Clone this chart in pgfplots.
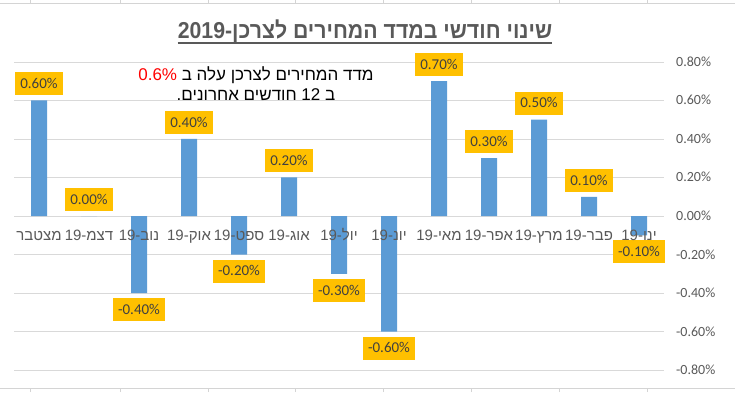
\documentclass[border=0pt]{standalone}
\usepackage{fontspec}
\usepackage{graphicx}
\usepackage{pgfplots}
\pgfplotsset{compat=1.18}
\setmainfont{Carlito}
\newfontfamily\heb[Script=Hebrew]{Liberation Sans}
\TeXXeTstate=1
\definecolor{barblue}{HTML}{5B9BD5}
\definecolor{lblorange}{HTML}{FFC000}
\definecolor{lbltext}{HTML}{404040}
\definecolor{axtext}{HTML}{595959}
\definecolor{gridgray}{HTML}{D9D9D9}
\definecolor{cellgray}{HTML}{D4D4D4}
\newcommand{\hm}[2]{{\heb\beginR #1\kern0pt-\beginL #2\endL\endR}}
\pgfplotsset{
  frame/.style={
    at={(14bp,22bp)}, anchor=south west,
    scale only axis, width=650bp, height=308bp,
    xmin=-0.5, xmax=12.5, ymin=-0.8, ymax=0.8,
    axis line style={draw=none}, major tick length=0pt, tick style={draw=none},
  }
}
\begin{document}
\begin{tikzpicture}[x=1bp,y=1bp]
\useasboundingbox (0,0) rectangle (735,392);
\draw[cellgray, line width=0.8bp] (0,389) -- (735,389);
\draw[cellgray, line width=0.8bp] (0,4) -- (735,4);
\foreach \x in {30,120,208,295,383,471,559,647} {
  \draw[cellgray, line width=0.8bp] (\x,389) -- (\x,392);
  \draw[cellgray, line width=0.8bp] (\x,0) -- (\x,4);
}
\begin{axis}[
  frame,
  ytick={-0.8,-0.6,-0.4,-0.2,0,0.2,0.4,0.6,0.8},
  ymajorgrids, grid style={gridgray, line width=0.75bp},
  yticklabel pos=right,
  /pgf/number format/assume math mode=true,
  yticklabel={\pgfmathprintnumber[fixed,fixed zerofill,precision=2]{\tick}\%},
  yticklabel style={anchor=base west, inner sep=0pt, xshift=12bp, yshift=-4.5bp, font=\fontsize{14bp}{16bp}\selectfont, text=axtext},
  xtick=\empty,
  ybar, bar width=16bp,
  nodes near coords={\pgfmathprintnumber[fixed,fixed zerofill,precision=2]{\pgfplotspointmeta}\%},
  nodes near coords align=vertical,
  every node near coord/.append style={fill=lblorange, text=lbltext, font=\fontsize{15bp}{18bp}\selectfont, inner xsep=5bp, inner ysep=6.75bp, text height=9.5bp, text depth=0bp, outer ysep=5bp, outer xsep=0pt},
]
\addplot[fill=barblue, draw=none] coordinates {
(0,0.60) (1,0.00) (2,-0.40) (3,0.40) (4,-0.20) (5,0.20) (6,-0.30)
(7,-0.60) (8,0.70) (9,0.30) (10,0.50) (11,0.10) (12,-0.10)};
\end{axis}
\begin{axis}[
  frame,
  ytick=\empty,
  xtick={0,1,2,3,4,5,6,7,8,9,10,11,12},
  xticklabels={מצטבר, \hm{דצמ}{19}, \hm{נוב}{19}, \hm{אוק}{19}, \hm{ספט}{19}, \hm{אוג}{19}, \hm{יול}{19}, \hm{יונ}{19}, \hm{מאי}{19}, \hm{אפר}{19}, \hm{מרץ}{19}, \hm{פבר}{19}, \hm{ינו}{19}},
  xticklabel style={anchor=base, inner sep=0pt, yshift=130bp, font=\fontsize{15bp}{18bp}\selectfont\heb, text=axtext},
]
\end{axis}
\node[anchor=base, inner sep=0pt, text=axtext, font=\fontsize{23bp}{27bp}\selectfont\heb\bfseries] (title) at (365,353.7)
  {\scalebox{0.925}[1]{\beginR שינוי חודשי במדד המחירים לצרכן\kern0pt-\beginL 2019\endL\endR}};
\draw[axtext, line width=2bp] ([yshift=-4.2bp]title.base west) -- ([yshift=-4.2bp]title.base east);
\node[anchor=base, inner sep=0pt, font=\fontsize{17bp}{20bp}\selectfont\heb] at (256,312)
  {\beginR מדד המחירים לצרכן עלה ב \beginL\textcolor{red}{0.6\%}\endL\endR};
\node[anchor=base, inner sep=0pt, font=\fontsize{17bp}{20bp}\selectfont\heb] at (256,292)
  {\beginR ב \beginL 12\endL\ חודשים אחרונים\kern0pt.\endR};
\end{tikzpicture}
\end{document}
